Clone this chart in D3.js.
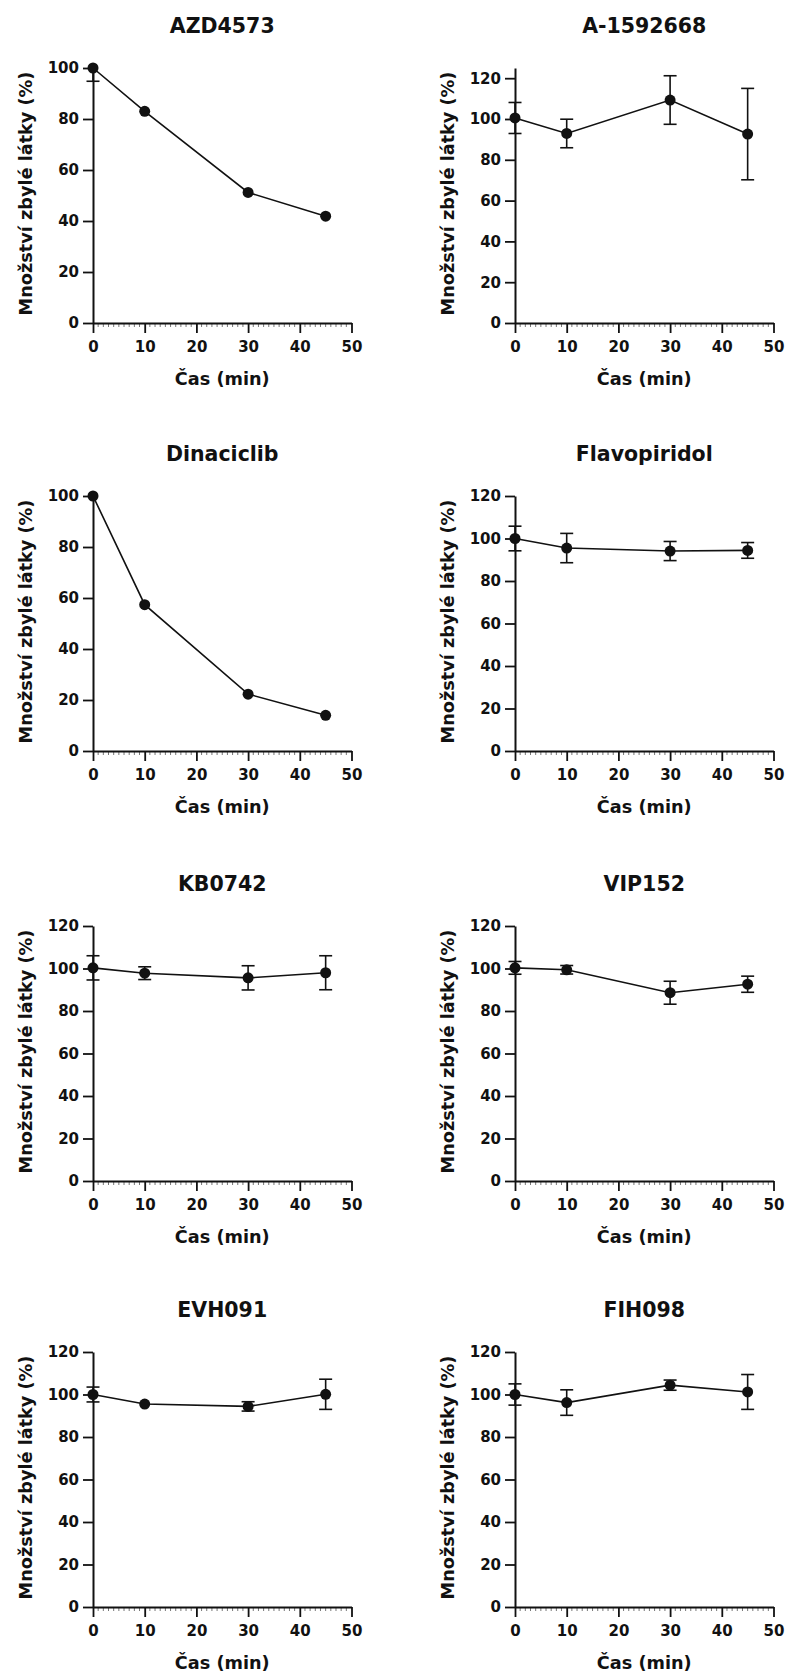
<!DOCTYPE html>
<html>
<head>
<meta charset="utf-8">
<script src="https://cdn.jsdelivr.net/npm/d3@7"></script>
<style>
  body { margin: 0; background: #fff; }
  text { font-family: "DejaVu Sans", Verdana, sans-serif; font-weight: bold; fill: #111; }
</style>
</head>
<body>
<div id="my_chart"></div>
<script>
// sampling times (min)
const times = [0, 10, 30, 45];

// compound names, in reading order (left-right, top-bottom)
const compounds = ["AZD4573", "A-1592668", "Dinaciclib", "Flavopiridol", "KB0742", "VIP152", "EVH091", "FIH098"];

// mean remaining amount (%) and error (SD) for each compound
const azd4573Mean = [100, 83.0, 51.2, 41.9];
const azd4573Err = [5.2, 0, 0, 0];
const a1592668Mean = [100.5, 92.9, 109.3, 92.6];
const a1592668Err = [7.6, 7.0, 11.9, 22.4];
const dinaciclibMean = [100, 57.4, 22.3, 14.0];
const dinaciclibErr = [0, 0, 0, 0];
const flavopiridolMean = [100, 95.5, 94.1, 94.4];
const flavopiridolErr = [5.8, 6.9, 4.5, 3.7];
const kb0742Mean = [100.3, 97.8, 95.6, 98.0];
const kb0742Err = [5.7, 3.0, 5.7, 8.0];
const vip152Mean = [100.3, 99.4, 88.6, 92.6];
const vip152Err = [3.0, 2.0, 5.4, 3.8];
const evh091Mean = [100, 95.5, 94.4, 100.1];
const evh091Err = [3.5, 0, 2.2, 7.1];
const fih098Mean = [100, 96.2, 104.4, 101.2];
const fih098Err = [5.0, 6.0, 2.4, 8.2];

// y axis maximum of each panel
const yMax = [100, 125, 100, 120, 120, 120, 120, 120];
const xTicks = [0, 10, 20, 30, 40, 50];

const xTitle = "Čas (min)";
const yTitle = "Množství zbylé látky (%)";

const means = [azd4573Mean, a1592668Mean, dinaciclibMean, flavopiridolMean, kb0742Mean, vip152Mean, evh091Mean, fih098Mean];
const errs = [azd4573Err, a1592668Err, dinaciclibErr, flavopiridolErr, kb0742Err, vip152Err, evh091Err, fih098Err];

// panel layout
const colX = [93, 515],
    rowY = [68, 496, 926, 1352],
    plotW = 258.5,
    plotH = 255;

const svg = d3.select("#my_chart")
    .append("svg")
    .attr("width", 785)
    .attr("height", 1674);

compounds.forEach((name, i) => {
    const g = svg.append("g")
        .attr("transform", `translate(${colX[i % 2]},${rowY[Math.floor(i / 2)]})`);

    const x = d3.scaleLinear().domain([0, 50]).range([0, plotW]);
    const y = d3.scaleLinear().domain([0, yMax[i]]).range([plotH, 0]);

    // minor ticks on x axis
    g.selectAll(".minor")
        .data(d3.range(1, 50).filter(v => v % 10 !== 0))
        .join("line")
        .attr("x1", d => x(d)).attr("x2", d => x(d))
        .attr("y1", plotH + 1).attr("y2", plotH + 4)
        .attr("stroke", "#777")
        .attr("stroke-width", 1);

    // X axis
    const xAxis = g.append("g")
        .attr("transform", `translate(0,${plotH})`)
        .call(d3.axisBottom(x).tickValues(xTicks).tickSize(10).tickSizeOuter(0).tickPadding(8.5));

    // Y axis
    const yAxis = g.append("g")
        .call(d3.axisLeft(y).tickValues(d3.range(0, yMax[i] + 1, 20)).tickSize(10).tickSizeOuter(0).tickPadding(4));

    [xAxis, yAxis].forEach(a => {
        a.select(".domain").attr("stroke", "#111").attr("stroke-width", 2);
        a.selectAll(".tick line").attr("stroke", "#111").attr("stroke-width", 1.8);
        a.selectAll(".tick text")
            .attr("fill", "#111")
            .style("font-size", "15px")
            .style("font-family", "'DejaVu Sans', Verdana, sans-serif")
            .style("font-weight", "bold");
    });

    const pts = times.map((t, j) => ({ t: t, v: means[i][j], e: errs[i][j] }));

    // error bars
    const eb = g.selectAll(".err")
        .data(pts.filter(d => d.e > 0))
        .join("g")
        .attr("stroke", "#111")
        .attr("stroke-width", 1.6);
    eb.append("line")
        .attr("x1", d => x(d.t)).attr("x2", d => x(d.t))
        .attr("y1", d => y(Math.min(d.v + d.e, yMax[i])))
        .attr("y2", d => y(d.v - d.e));
    eb.filter(d => d.v + d.e <= yMax[i])
        .append("line")
        .attr("x1", d => x(d.t) - 6.5).attr("x2", d => x(d.t) + 6.5)
        .attr("y1", d => y(d.v + d.e)).attr("y2", d => y(d.v + d.e));
    eb.append("line")
        .attr("x1", d => x(d.t) - 6.5).attr("x2", d => x(d.t) + 6.5)
        .attr("y1", d => y(d.v - d.e)).attr("y2", d => y(d.v - d.e));

    // connecting line
    g.append("path")
        .datum(pts)
        .attr("fill", "none")
        .attr("stroke", "#111")
        .attr("stroke-width", 1.6)
        .attr("d", d3.line().x(d => x(d.t)).y(d => y(d.v)));

    // markers
    g.selectAll(".dot")
        .data(pts)
        .join("circle")
        .attr("cx", d => x(d.t))
        .attr("cy", d => y(d.v))
        .attr("r", 5.5)
        .attr("fill", "#111");

    // panel title
    g.append("text")
        .attr("x", plotW / 2)
        .attr("y", -35)
        .attr("text-anchor", "middle")
        .style("font-size", "20.5px")
        .text(name);

    // x title
    g.append("text")
        .attr("x", plotW / 2)
        .attr("y", plotH + 62)
        .attr("text-anchor", "middle")
        .style("font-size", "17.7px")
        .text(xTitle);

    // y title
    g.append("text")
        .attr("transform", `translate(-61.5,${plotH / 2 - 2}) rotate(-90)`)
        .attr("text-anchor", "middle")
        .style("font-size", "17.7px")
        .text(yTitle);
});
</script>
</body>
</html>
